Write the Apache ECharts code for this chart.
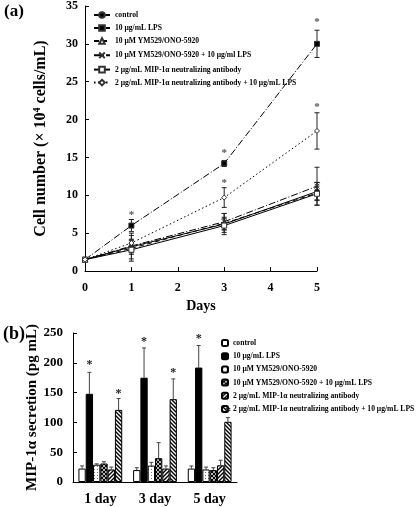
<!DOCTYPE html>
<html><head><meta charset="utf-8">
<script src="https://cdn.jsdelivr.net/npm/echarts@6/dist/echarts.min.js"></script>
<style>html,body{margin:0;padding:0;background:#fff}#c{width:418px;height:507px}</style>
</head><body><div id="c"></div>
<script>
// ---------- Panel (a): cell number ----------
const days = [0, 1, 3, 5];
const dayTicks = [0, 1, 2, 3, 4, 5];
const namesA = ['control', '10 μg/mL LPS', '10 μM YM529/ONO-5920', '10 μM YM529/ONO-5920 + 10 μg/ml LPS', '2 μg/mL MIP-1α neutralizing antibody', '2 μg/mL MIP-1α neutralizing antibody + 10 μg/mL LPS'];
const ctrlA = [1.5, 3.2, 6.2, 10.5];
const ctrlA_sd = [0, 1.0, 1.4, 1.2];
const lpsA = [1.5, 6.0, 14.2, 30.0];
const lpsA_sd = [0, 0.8, 0.4, 1.8];
const ymA = [1.5, 3.0, 6.3, 10.3];
const ymA_sd = [0, 1.7, 0.8, 0.9];
const ymLpsA = [1.5, 3.3, 6.5, 11.2];
const ymLpsA_sd = [0, 0.8, 1.1, 2.5];
const mipA = [1.5, 2.8, 6.0, 10.2];
const mipA_sd = [0, 1.2, 0.9, 1.5];
const mipLpsA = [1.5, 3.7, 9.7, 18.5];
const mipLpsA_sd = [0, 1.3, 1.3, 2.4];
const starsA = [[1, 7.8], [3, 16.0], [3, 12.0], [5, 33.3], [5, 22.0]];

// ---------- Panel (b): MIP-1α secretion ----------
const catsB = ['1 day', '3 day', '5 day'];
const namesB = ['control', '10 μg/mL LPS', '10 μM YM529/ONO-5920', '10 μM YM529/ONO-5920 + 10 μg/mL LPS', '2 μg/mL MIP-1α neutralizing antibody', '2 μg/mL MIP-1α neutralizing antibody + 10 μg/mL LPS'];
const ctrlB = [22.5, 20, 22.5];
const ctrlB_err = [4.5, 4, 4.5];
const lpsB = [148, 175, 192];
const lpsB_err = [36, 50, 37];
const ymB = [29, 27.5, 21];
const ymB_err = [1.5, 5.5, 4];
const ymLpsB = [31, 40, 20];
const ymLpsB_err = [3, 26, 4];
const mipB = [21, 22.5, 28];
const mipB_err = [4, 4.5, 8.5];
const mipLpsB = [121, 139, 101];
const mipLpsB_err = [19, 34, 7];
// [category index, series index, value]
const starsB = [[0, 1, 201], [0, 5, 153], [1, 1, 240], [1, 5, 188], [2, 1, 245], [2, 5, 122]];

const FONT = '"Liberation Serif", "Times New Roman", serif';

function makePattern(kind) {
  const s = kind === 'dots' ? 3 : 4;
  const c = document.createElement('canvas');
  c.width = s; c.height = s;
  const g = c.getContext('2d');
  g.fillStyle = '#fff'; g.fillRect(0, 0, s, s);
  g.strokeStyle = '#000'; g.fillStyle = '#000';
  if (kind === 'dots') {
    g.fillStyle = '#777'; g.fillRect(1, 1, 1, 1);
  } else {
    g.lineWidth = kind === 'check' ? 1.2 : 1.4;
    const slash = () => { g.beginPath(); g.moveTo(0, s); g.lineTo(s, 0); g.moveTo(-1, 1); g.lineTo(1, -1); g.moveTo(s - 1, s + 1); g.lineTo(s + 1, s - 1); g.stroke(); };
    const bslash = () => { g.beginPath(); g.moveTo(0, 0); g.lineTo(s, s); g.moveTo(-1, s - 1); g.lineTo(1, s + 1); g.moveTo(s - 1, -1); g.lineTo(s + 1, 1); g.stroke(); };
    if (kind === 'slash') slash();
    if (kind === 'bslash') bslash();
    if (kind === 'check') { slash(); bslash(); }
  }
  return { image: c, repeat: 'repeat' };
}

const chart = echarts.init(document.getElementById('c'), null, { renderer: 'canvas' });

const meansA = [ctrlA, lpsA, ymA, ymLpsA, mipA, mipLpsA];
const sdsA = [ctrlA_sd, lpsA_sd, ymA_sd, ymLpsA_sd, mipA_sd, mipLpsA_sd];
const symA = ['circle', 'rect', 'triangle', 'path://M0,0L10,10M10,0L0,10', 'rect', 'diamond'];
const fillA = ['#000', '#000', '#fff', 'none', '#fff', '#fff'];
const dashA = ['solid', [7, 2, 1, 2], [5, 3], [7, 2, 1, 2], 'solid', [1.5, 2.5]];

const lineSeries = meansA.map((m, i) => ({
  name: namesA[i], type: 'line', xAxisIndex: 0, yAxisIndex: 0,
  data: days.map((d, k) => [d, m[k]]),
  symbol: symA[i], symbolSize: 5, showSymbol: true,
  lineStyle: { color: '#000', width: 1, type: dashA[i] },
  itemStyle: { color: fillA[i], borderColor: '#333', borderWidth: 1 },
  color: '#000', z: 3, animation: false
}));

const errA = [];
sdsA.forEach((sd, i) => days.forEach((d, k) => { if (sd[k] > 0) errA.push([d, meansA[i][k] - sd[k], meansA[i][k] + sd[k]]); }));

const meansB = [ctrlB, lpsB, ymB, ymLpsB, mipB, mipLpsB];
const errsB = [ctrlB_err, lpsB_err, ymB_err, ymLpsB_err, mipB_err, mipLpsB_err];
const fillB = ['#fff', '#000', makePattern('dots'), makePattern('check'), makePattern('slash'), makePattern('bslash')];
const BW = 7.3;

const barSeries = meansB.map((m, i) => ({
  name: 'b:' + namesB[i], type: 'bar', xAxisIndex: 1, yAxisIndex: 1,
  data: m, barWidth: BW, barGap: '0%',
  itemStyle: { color: fillB[i], borderColor: '#000', borderWidth: 1 },
  animation: false
}));

const errB = [];
errsB.forEach((e, i) => catsB.forEach((c, k) => errB.push([k, i, meansB[i][k], e[k]])));

const legendText = { fontFamily: FONT, fontWeight: 'bold', fontSize: 7.6, color: '#000' };

const option = {
  animation: false,
  backgroundColor: '#fff',
  textStyle: { fontFamily: FONT },
  grid: [
    { left: 85, top: 6, width: 232, height: 265 },
    { left: 73, top: 333, width: 164, height: 149 }
  ],
  xAxis: [
    { gridIndex: 0, type: 'value', min: 0, max: 5, interval: 1,
      axisLine: { lineStyle: { color: '#000', width: 1 } },
      axisTick: { inside: true, length: 4, lineStyle: { color: '#000' } },
      splitLine: { show: false },
      axisLabel: { color: '#000', fontFamily: FONT, fontWeight: 'bold', fontSize: 12, margin: 11,
        formatter: v => dayTicks.includes(v) ? String(v) : '' },
      name: 'Days', nameLocation: 'middle', nameGap: 28,
      nameTextStyle: { color: '#000', fontFamily: FONT, fontWeight: 'bold', fontSize: 14 } },
    { gridIndex: 1, type: 'category', data: catsB,
      axisLine: { lineStyle: { color: '#000', width: 1 } },
      axisTick: { show: false },
      axisLabel: { color: '#000', fontFamily: FONT, fontWeight: 'bold', fontSize: 14, margin: 10 } }
  ],
  yAxis: [
    { gridIndex: 0, type: 'value', min: 0, max: 35, interval: 5,
      axisLine: { show: true, lineStyle: { color: '#000', width: 1 } },
      axisTick: { show: true, inside: true, length: 4, lineStyle: { color: '#000' } },
      splitLine: { show: false },
      axisLabel: { color: '#000', fontFamily: FONT, fontWeight: 'bold', fontSize: 12, margin: 7 },
      name: '{a|Cell number (× 10}{s|4}{a| cells/mL)}', nameLocation: 'middle', nameGap: 35,
      nameTextStyle: { rich: {
        a: { fontFamily: FONT, fontWeight: 'bold', fontSize: 16, color: '#000' },
        s: { fontFamily: FONT, fontWeight: 'bold', fontSize: 10, color: '#000', verticalAlign: 'top', padding: [0, 0, 8, 0] } } } },
    { gridIndex: 1, type: 'value', min: 0, max: 250, interval: 50,
      axisLine: { show: true, lineStyle: { color: '#000', width: 1 } },
      axisTick: { show: true, inside: true, length: 4, lineStyle: { color: '#000' } },
      splitLine: { show: false },
      axisLabel: { color: '#000', fontFamily: FONT, fontWeight: 'bold', fontSize: 13, margin: 10 },
      name: 'MIP-1α secretion (pg mL)', nameLocation: 'middle', nameGap: 27,
      nameTextStyle: { color: '#000', fontFamily: FONT, fontWeight: 'bold', fontSize: 15 } }
  ],
  legend: [
    { data: namesA, orient: 'vertical', left: 88, top: 6, itemWidth: 16, itemHeight: 7, itemGap: 5,
      selectedMode: false, textStyle: legendText },
    { data: namesB.map(n => 'b:' + n), orient: 'vertical', left: 216, top: 334, itemWidth: 6, itemHeight: 6, itemGap: 5.2,
      selectedMode: false, formatter: n => n.replace(/^b:/, ''), textStyle: legendText }
  ],
  graphic: [
    { type: 'text', left: 4, top: 3, style: { text: '(a)', font: 'bold 17px ' + FONT, fill: '#000' } },
    { type: 'text', left: 3, top: 325, style: { text: '(b)', font: 'bold 18px ' + FONT, fill: '#000' } }
  ],
  series: [
    ...lineSeries,
    { type: 'custom', xAxisIndex: 0, yAxisIndex: 0, data: errA, encode: { x: 0, y: [1, 2] }, z: 2, silent: true,
      renderItem: (p, api) => {
        const lo = api.coord([api.value(0), api.value(1)]);
        const hi = api.coord([api.value(0), api.value(2)]);
        const st = { stroke: '#222', lineWidth: 1 };
        return { type: 'group', children: [
          { type: 'line', shape: { x1: lo[0], y1: lo[1], x2: hi[0], y2: hi[1] }, style: st },
          { type: 'line', shape: { x1: lo[0] - 2.5, y1: lo[1], x2: lo[0] + 2.5, y2: lo[1] }, style: st },
          { type: 'line', shape: { x1: hi[0] - 2.5, y1: hi[1], x2: hi[0] + 2.5, y2: hi[1] }, style: st } ] };
      } },
    { type: 'custom', xAxisIndex: 0, yAxisIndex: 0, data: starsA, encode: { x: 0, y: 1 }, z: 4, silent: true,
      renderItem: (p, api) => {
        const pt = api.coord([api.value(0), api.value(1)]);
        return { type: 'text', x: pt[0], y: pt[1] + 3, style: { text: '*', font: 'bold 11px ' + FONT, fill: '#555', align: 'center', verticalAlign: 'middle' } };
      } },
    ...barSeries,
    { type: 'custom', xAxisIndex: 1, yAxisIndex: 1, data: errB, encode: { x: 0, y: 2 }, z: 1, silent: true,
      renderItem: (p, api) => {
        const ci = api.value(0), si = api.value(1), v = api.value(2), e = api.value(3);
        const b = api.coord([ci, v]);
        const t = api.coord([ci, v + e]);
        const x = b[0] + (si - 2.5) * BW;
        const st = { stroke: '#444', lineWidth: 1 };
        return { type: 'group', children: [
          { type: 'line', shape: { x1: x, y1: b[1], x2: x, y2: t[1] }, style: st },
          { type: 'line', shape: { x1: x - 2, y1: t[1], x2: x + 2, y2: t[1] }, style: st } ] };
      } },
    { type: 'custom', xAxisIndex: 1, yAxisIndex: 1, data: starsB, encode: { x: 0, y: 2 }, z: 4, silent: true,
      renderItem: (p, api) => {
        const ci = api.value(0), si = api.value(1), v = api.value(2);
        const pt = api.coord([ci, v]);
        const x = pt[0] + (si - 2.5) * BW;
        return { type: 'text', x: x, y: pt[1] + 3, style: { text: '*', font: 'bold 12px ' + FONT, fill: '#222', align: 'center', verticalAlign: 'middle' } };
      } }
  ]
};
chart.setOption(option);
</script></body></html>
